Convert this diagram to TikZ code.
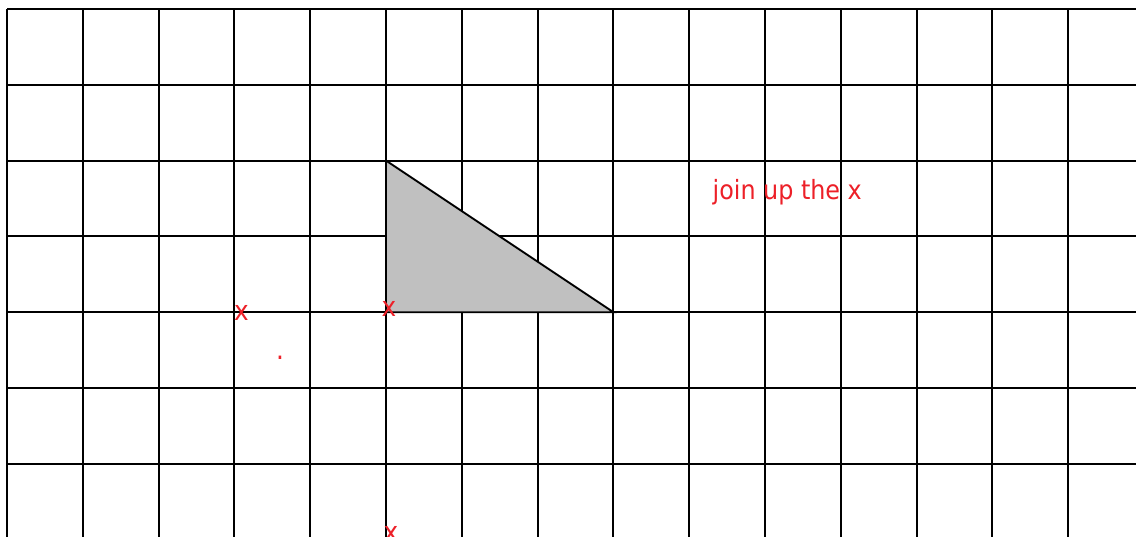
\documentclass[tikz,border=0pt]{standalone}
\usepackage{fontspec}
\setmainfont{DejaVu Sans Condensed}
\definecolor{markred}{RGB}{237,32,40}
\definecolor{trigray}{RGB}{192,192,192}
\tikzset{
  gridline/.style={line width=1.9pt, black},
  mark label/.style={text=markred, inner sep=0pt, font=\fontsize{27.5}{27.5}\selectfont},
  big label/.style={text=markred, inner sep=0pt, font=\fontsize{26.5}{26.5}\selectfont},
}
\begin{document}
\begin{tikzpicture}[x=1pt,y=-1pt]
\useasboundingbox (0,0) rectangle (1136,536);
\fill[white] (0,0) rectangle (1136,536);
\foreach \i in {0,...,14}{
  \draw[gridline] ({7+75.8*\i},9) -- ({7+75.8*\i},540);
}
\foreach \j in {0,...,6}{
  \draw[gridline] (7,{9+75.8*\j}) -- (1140,{9+75.8*\j});
}
\coordinate (A) at (386,160.6);
\coordinate (B) at (386,312.2);
\coordinate (C) at (613.4,312.2);
\draw[line width=1.9pt, fill=trigray, line join=miter] (A) -- (B) -- (C) -- cycle;
\node[mark label] (x1) at (241.5,312.5) {x};
\node[mark label] (x2) at (389,308.5) {x};
\node[mark label, anchor=base] (dot) at (280,359.5) {.};
\node[mark label] (x3) at (391,533.5) {x};
\node[big label, anchor=base west] (title) at (712.5,199) {join up the x};
\end{tikzpicture}
\end{document}
